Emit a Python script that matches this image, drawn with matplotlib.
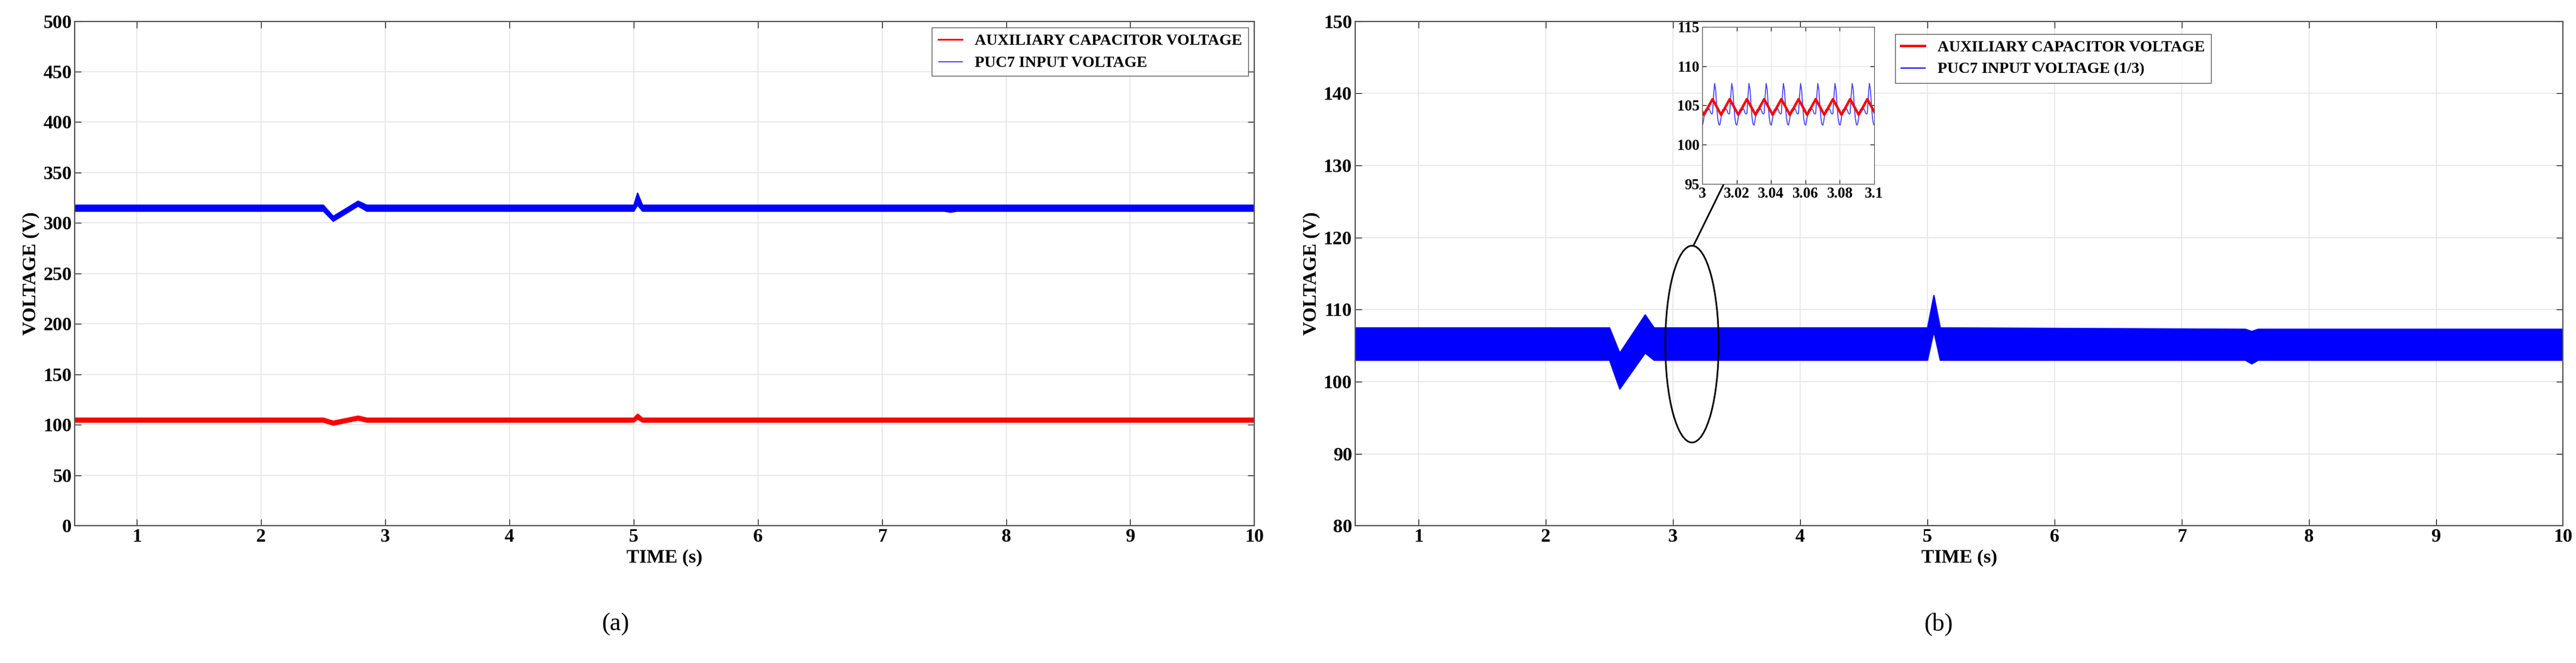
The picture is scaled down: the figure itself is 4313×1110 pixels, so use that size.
import matplotlib.pyplot as plt
from matplotlib.patches import Ellipse
import numpy as np

plt.rcParams["font.family"] = ["Liberation Serif", "DejaVu Serif"]
plt.rcParams["font.weight"] = "bold"

C_RED = "#ff0000"
C_BLUE = "#0000ff"

# ---- panel (a): envelope breakpoints (time, lower, upper) ----
a_t = [0.5, 2.5, 2.58, 2.78, 2.85, 5.0, 5.03, 5.07, 7.5, 7.55, 7.6, 10.0]
a_blue_lo = [312, 312, 302, 317, 312, 312, 318, 312, 312, 311, 312, 312]
a_blue_hi = [318, 318, 307, 322, 318, 318, 330, 318, 318, 318, 318, 318]
a_red_lo = [103, 103, 100, 105, 103, 103, 106, 103, 103, 103, 103, 103]
a_red_hi = [107, 107, 104, 109, 107, 107, 111, 107, 107, 107, 107, 107]

# ---- panel (b): envelope breakpoints ----
b_t = [0.5, 2.5, 2.58, 2.78, 2.85, 5.0, 5.05, 5.1, 7.5, 7.55, 7.6, 10.0]
b_blue_lo = [103.0, 103.0, 99.0, 104.0, 103.0, 103.0, 107.0, 103.0, 103.0, 102.5, 103.0, 103.0]
b_blue_hi = [107.5, 107.5, 104.0, 109.3, 107.5, 107.5, 112.0, 107.5, 107.3, 107.0, 107.3, 107.3]

# ---- inset: one ripple cycle (offset within 10 ms period, value) ----
period = 0.01
red_cycle_t = [0.0, 0.005]
red_cycle_v = [105.8, 103.8]
blue_cycle_t = [0.0, 0.0006, 0.0012, 0.0018, 0.0024, 0.003, 0.0036, 0.0042, 0.0048,
                0.0054, 0.006, 0.0066, 0.0072, 0.0078, 0.0084, 0.009, 0.0096]
blue_cycle_v = [104.0, 106.2, 107.8, 107.0, 105.0, 103.4, 102.6, 102.5, 103.2,
                104.2, 104.5, 104.3, 104.4, 104.6, 104.4, 104.0, 103.9]
inset_start = 2.996

t_a_ticks = list(range(1, 11))


def style(ax):
    ax.set_axisbelow(True)
    ax.grid(True, color="#e6e6e6", lw=1.2)
    ax.tick_params(labelsize=23, length=8, direction="in", top=True, right=True)
    for s in ax.spines.values():
        s.set_color("#555")
        s.set_linewidth(1.5)
    ax.set_xlabel("TIME (s)", fontsize=23, fontweight="bold")
    ax.set_ylabel("VOLTAGE (V)", fontsize=23, fontweight="bold")


fig = plt.figure(figsize=(43.13, 11.1), dpi=100)
axa = fig.add_axes([0.029, 0.207, 0.458, 0.761])
axb = fig.add_axes([0.526, 0.207, 0.469, 0.761])

# (a)
axa.fill_between(a_t, a_red_lo, a_red_hi, color=C_RED, lw=1.5, edgecolor=C_RED)
axa.fill_between(a_t, a_blue_lo, a_blue_hi, color=C_BLUE, lw=1.5, edgecolor=C_BLUE)
axa.plot([], [], color=C_RED, lw=2, label="AUXILIARY CAPACITOR VOLTAGE")
axa.plot([], [], color=C_BLUE, lw=1, label="PUC7 INPUT VOLTAGE")
axa.set_xlim(0.5, 10)
axa.set_ylim(0, 500)
axa.set_xticks(t_a_ticks)
axa.set_yticks(range(0, 501, 50))
style(axa)
axa.legend(loc="upper right", fontsize=19, frameon=True, fancybox=False,
           edgecolor="#333", handlelength=1.5, borderaxespad=0.4)

# (b)
axb.fill_between(b_t, b_blue_lo, b_blue_hi, color=C_BLUE, lw=1.5, edgecolor=C_BLUE)
axb.plot([], [], color=C_RED, lw=3, label="AUXILIARY CAPACITOR VOLTAGE")
axb.plot([], [], color=C_BLUE, lw=1.5, label="PUC7 INPUT VOLTAGE (1/3)")
axb.set_xlim(0.5, 10)
axb.set_ylim(80, 150)
axb.set_xticks(t_a_ticks)
axb.set_yticks(range(80, 151, 10))
style(axb)
axb.legend(loc="upper left", bbox_to_anchor=(0.4405, 0.99), fontsize=19, frameon=True,
           fancybox=False, edgecolor="#333", handlelength=1.5)
axb.add_patch(Ellipse((3.15, 105.2), 0.42, 27.3, fill=False, ec="black", lw=2))
axb.annotate("", xy=(3.5, 131), xytext=(3.16, 118.8),
             arrowprops=dict(arrowstyle="-|>", color="black", lw=2, mutation_scale=25))

# inset
ins = fig.add_axes([2850 / 4313, 1 - 308 / 1110, 288 / 4313, 263 / 1110])
n_cyc = 11
rt, rv, bt, bv = [], [], [], []
for k in range(n_cyc):
    base = inset_start + k * period
    rt += [base + x for x in red_cycle_t]
    rv += red_cycle_v
    bt += [base + x for x in blue_cycle_t]
    bv += blue_cycle_v
ins.plot(bt, bv, color="#4040ff", lw=1.2)
ins.plot(rt, rv, color=C_RED, lw=3)
ins.set_xlim(3.0, 3.1)
ins.set_ylim(95, 115)
ins.set_xticks([3, 3.02, 3.04, 3.06, 3.08, 3.1])
ins.set_xticklabels(["3", "3.02", "3.04", "3.06", "3.08", "3.1"])
ins.set_yticks(range(95, 116, 5))
ins.set_axisbelow(True)
ins.grid(True, color="#e6e6e6", lw=1)
ins.tick_params(labelsize=18, length=5, direction="in", top=True, right=True)
for s in ins.spines.values():
    s.set_color("#555")

fig.text(1030 / 4313, 1 - 1045 / 1110, "(a)", fontsize=30, ha="center", va="center",
         fontweight="normal")
fig.text(3245 / 4313, 1 - 1045 / 1110, "(b)", fontsize=30, ha="center", va="center",
         fontweight="normal")

fig.savefig("out.png", dpi=100, facecolor="white")
